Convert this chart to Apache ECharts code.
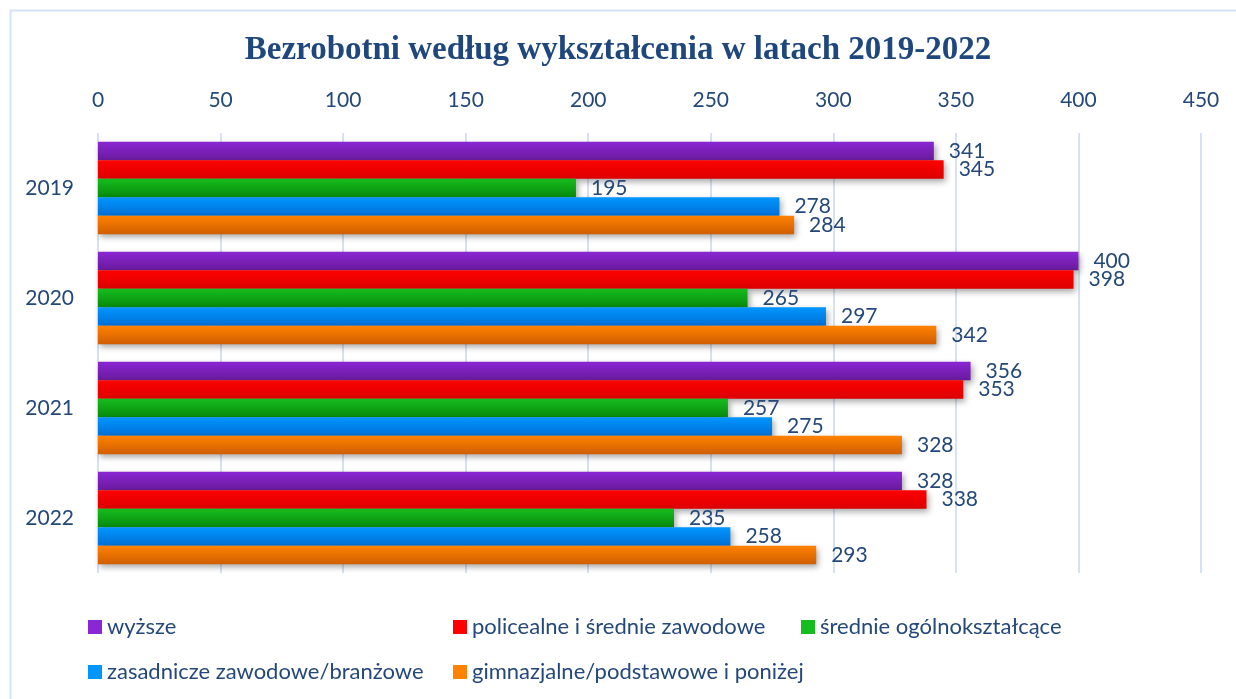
<!DOCTYPE html>
<html>

<head>
  <meta charset="utf-8">
  <title>Bezrobotni według wykształcenia</title>
  <style>
    html, body { margin: 0; padding: 0; background: #fff; }
    #chart { width: 1236px; height: 699px; }
  </style>
</head>

<body>
  <div id="chart"></div>
  <script src="https://cdn.jsdelivr.net/npm/echarts@6/dist/echarts.min.js"></script>
  <script type="text/javascript">
    // dane z wykresu
    var years = ['2019', '2020', '2021', '2022'];
    var seriesNames = ['wyższe', 'policealne i średnie zawodowe', 'średnie ogólnokształcące',
      'zasadnicze zawodowe/branżowe', 'gimnazjalne/podstawowe i poniżej'];
    var wyzsze = [341, 400, 356, 328];
    var policealne = [345, 398, 353, 338];
    var srednieOgolne = [195, 265, 257, 235];
    var zasadnicze = [278, 297, 275, 258];
    var gimnazjalne = [284, 342, 328, 293];
    var xTicks = [0, 50, 100, 150, 200, 250, 300, 350, 400, 450];

    var values = [wyzsze, policealne, srednieOgolne, zasadnicze, gimnazjalne];
    // kolory: góra jaśniejsza, dół ciemniejszy
    var colors = [
      ['#8a26d4', '#6a1a9c'],
      ['#ff0000', '#dc0000'],
      ['#16bd1e', '#078a0c'],
      ['#0096ff', '#006fd6'],
      ['#ff8200', '#d05e00']
    ];
    var textColor = '#24487a';
    var font = 'Lato';

    function grad(c) {
      return new echarts.graphic.LinearGradient(0, 0, 0, 1, [
        { offset: 0, color: c[0] },
        { offset: 1, color: c[1] }
      ]);
    }

    var series = values.map(function (v, i) {
      return {
        name: seriesNames[i],
        type: 'bar',
        data: v,
        barGap: '0%',
        barCategoryGap: '16%',
        itemStyle: {
          color: grad(colors[i]),
          shadowColor: 'rgba(0,0,0,0.35)',
          shadowBlur: 6,
          shadowOffsetX: 2,
          shadowOffsetY: 3
        },
        label: {
          show: true,
          position: 'right',
          distance: 15,
          color: textColor,
          fontFamily: font,
          fontSize: 21
        }
      };
    });

    // osobna legenda dla każdej pozycji
    var legendPos = [[83, 611], [448, 611], [796, 611], [83, 656], [448, 656]];
    var legends = seriesNames.map(function (n, i) {
      return {
        data: [n],
        left: legendPos[i][0],
        top: legendPos[i][1],
        icon: 'rect',
        itemWidth: 14,
        itemHeight: 14,
        itemGap: 0,
        textStyle: { color: textColor, fontFamily: font, fontSize: 22 },
        itemStyle: { color: colors[i][0] }
      };
    });

    var chart = echarts.init(document.getElementById('chart'));
    chart.setOption({
      animation: false,
      title: {
        text: 'Bezrobotni według wykształcenia w latach 2019-2022',
        left: 'center',
        top: 29,
        textStyle: {
          fontFamily: 'Liberation Serif',
          fontWeight: 'bold',
          fontSize: 33,
          color: '#1f477d'
        }
      },
      legend: legends,
      graphic: [{
        type: 'rect',
        shape: { x: 10.5, y: 10.5, width: 1260, height: 720 },
        style: { fill: 'none', stroke: '#d4e3f7', lineWidth: 2 },
        silent: true
      }],
      grid: { left: 98, right: 35, top: 133, bottom: 126 },
      xAxis: {
        type: 'value',
        position: 'top',
        min: xTicks[0],
        max: xTicks[xTicks.length - 1],
        interval: 50,
        axisLine: { show: false },
        axisTick: { show: false },
        axisLabel: { color: textColor, fontFamily: font, fontSize: 21, margin: 22 },
        splitLine: { lineStyle: { color: '#d6e2f2', width: 2 } }
      },
      yAxis: {
        type: 'category',
        data: years,
        inverse: true,
        axisLine: { show: false },
        axisTick: { show: false },
        axisLabel: { color: textColor, fontFamily: font, fontSize: 21, margin: 24 }
      },
      series: series
    });
  </script>
</body>

</html>
